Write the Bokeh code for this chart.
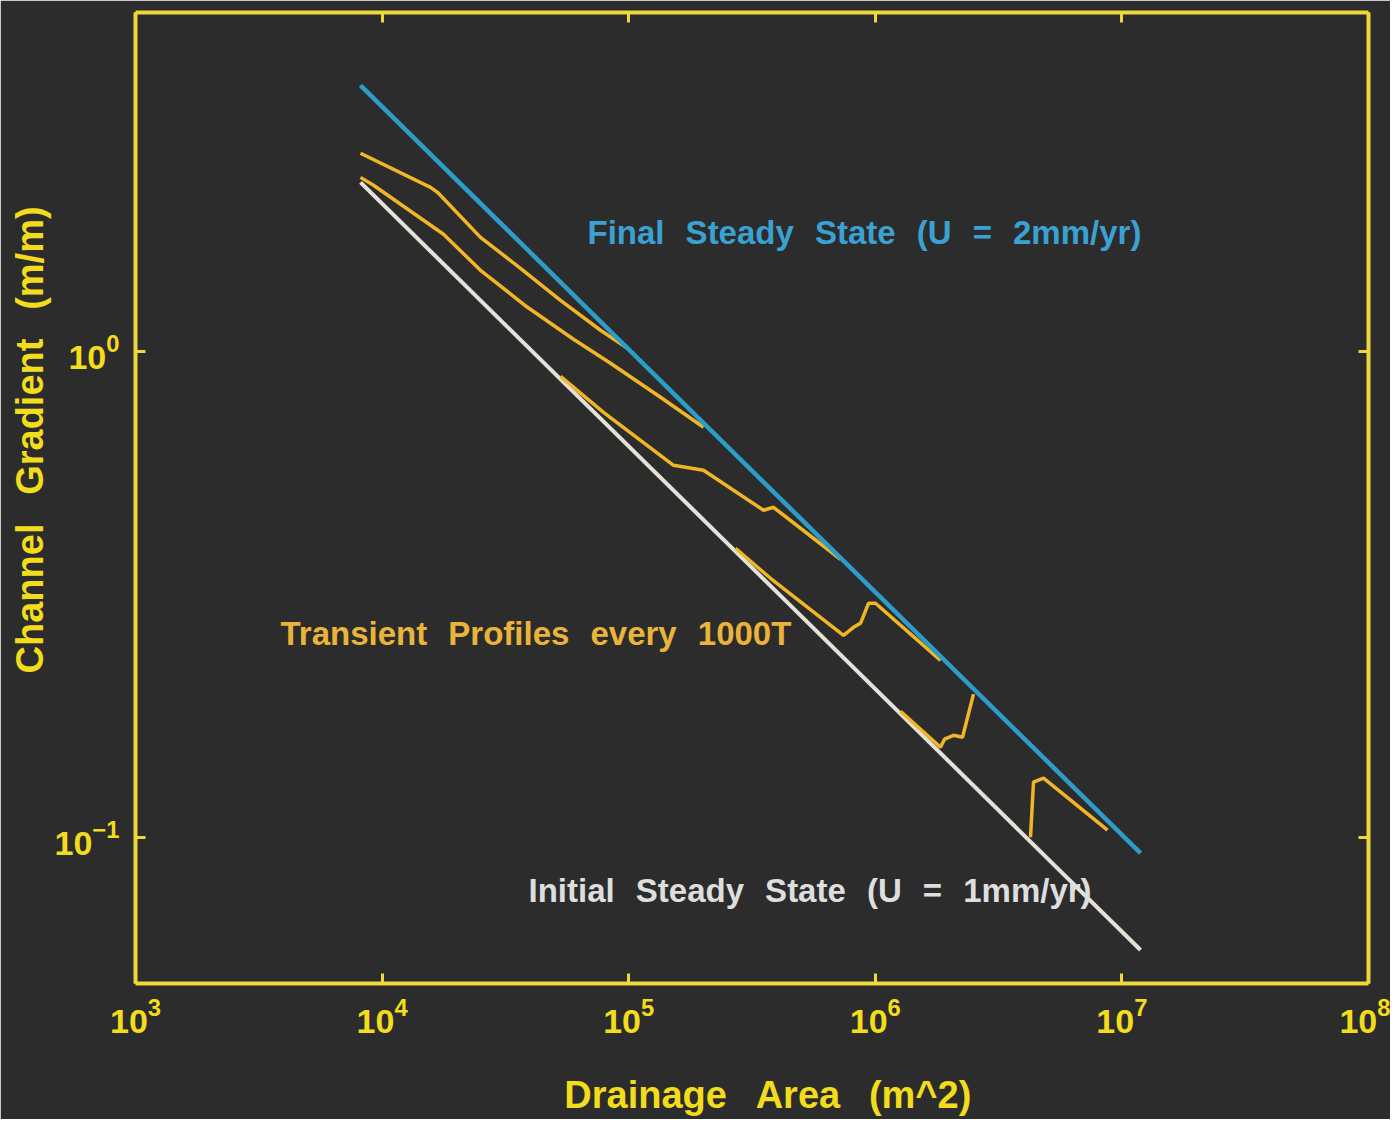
from bokeh.plotting import figure
from bokeh.models import Range1d, LogAxis, FixedTicker, LogTickFormatter, Label
from bokeh.embed import file_html
from bokeh.resources import INLINE

# ---- data ----
x_ticks = [1e3, 1e4, 1e5, 1e6, 1e7, 1e8]
y_ticks = [0.1, 1.0]

final_area = [8174, 11900000]
final_grad = [3.527, 0.0927]

initial_area = [8174, 11900000]
initial_grad = [2.227, 0.0586]

area_A = [8174, 15717, 16775, 25061, 36409, 52895, 76860, 98880]
grad_A = [2.556, 2.175, 2.124, 1.716, 1.482, 1.273, 1.105, 1.014]

area_B = [8174, 9228, 16160, 17745, 25061, 38863, 59727, 84380, 134590, 201100]
grad_B = [2.280, 2.196, 1.800, 1.741, 1.468, 1.232, 1.059, 0.9447, 0.8045, 0.6977]

area_C = [52895, 79050, 151950, 201100, 352100, 386600, 722600]
grad_C = [0.8883, 0.7489, 0.5826, 0.5692, 0.4709, 0.4775, 0.3733]

area_D = [271100, 375800, 743100, 815800, 870900, 938600, 1001800, 1838500]
grad_D = [0.3933, 0.3411, 0.2603, 0.2704, 0.2756, 0.3030, 0.3030, 0.2312]

area_E = [1265500, 1838500, 1908500, 2075900, 2257900, 2501500]
grad_E = [0.1816, 0.1532, 0.1591, 0.1621, 0.1606, 0.1970]

area_F = [4260000, 4380000, 4810000, 8743000]
grad_F = [0.1000, 0.1298, 0.1323, 0.1034]

transient = [(area_A, grad_A), (area_B, grad_B), (area_C, grad_C),
             (area_D, grad_D), (area_E, grad_E), (area_F, grad_F)]

# ---- styles ----
BG = "#2c2c2c"
FRAME = "#eed83a"
LABEL_YELLOW = "#f2dc1c"
PROFILE = "#f0b626"
BLUE = "#2c9cc8"
WHITE = "#e4e1d8"
FONT = "Liberation Sans"
NB = "\u00a0\u00a0\u200a"      # word gap for annotations
NB_AX = "\u00a0\u00a0\u2009"   # word gap for axis labels

p = figure(width=1390, height=1119,
           x_axis_type="log", y_axis_type="log",
           x_range=Range1d(1e3, 1e8), y_range=Range1d(0.05, 4.98),
           output_backend="svg", toolbar_location=None,
           min_border_left=135, min_border_right=22,
           min_border_top=12, min_border_bottom=136)

p.background_fill_color = BG
p.border_fill_color = BG
p.outline_line_color = None
p.xgrid.visible = False
p.ygrid.visible = False


def style_axis(ax, ticks, show_labels):
    ax.ticker = FixedTicker(ticks=ticks)
    ax.formatter = LogTickFormatter()
    ax.axis_line_color = FRAME
    ax.axis_line_width = 4
    ax.major_tick_line_color = FRAME
    ax.major_tick_line_width = 3
    ax.major_tick_in = 10
    ax.major_tick_out = 0
    ax.minor_tick_line_color = None
    if show_labels:
        ax.major_label_text_color = LABEL_YELLOW
        ax.major_label_text_font = FONT
        ax.major_label_text_font_size = "34px"
        ax.major_label_text_font_style = "bold"
    else:
        ax.major_label_text_font_size = "1px"
        ax.major_label_text_color = None
        ax.major_label_standoff = 0


xb = p.xaxis[0]
yl = p.yaxis[0]
style_axis(xb, x_ticks, True)
style_axis(yl, y_ticks, True)
xb.major_label_standoff = 14
yl.major_label_standoff = 16

xb.axis_label = "\u00a0" * 3 + "Drainage" + NB_AX + "Area" + NB_AX + "(m^2)"
yl.axis_label = "\u00a0" * 11 + "Channel" + NB_AX + "Gradient" + NB_AX + "(m/m)"
for ax in (xb, yl):
    ax.axis_label_text_color = LABEL_YELLOW
    ax.axis_label_text_font = FONT
    ax.axis_label_text_font_size = "38px"
    ax.axis_label_text_font_style = "bold"
xb.axis_label_standoff = 38
yl.axis_label_standoff = 1

top = LogAxis()
style_axis(top, x_ticks, False)
p.add_layout(top, "above")
right = LogAxis()
style_axis(right, y_ticks, False)
p.add_layout(right, "right")

# ---- lines ----
p.line(initial_area, initial_grad, line_color=WHITE, line_width=4)
for a, g in transient:
    p.line(a, g, line_color=PROFILE, line_width=3.5)
p.line(final_area, final_grad, line_color=BLUE, line_width=4.5)

# ---- annotations ----
p.add_layout(Label(x=68080, y=1.758, text="Final" + NB + "Steady" + NB + "State" + NB + "(U" + NB + "=" + NB + "2mm/yr)",
                   text_color="#3aa2d2", text_font=FONT, text_font_size="33px",
                   text_font_style="bold", text_baseline="middle", text_align="left"))
p.add_layout(Label(x=3873, y=0.2629, text="Transient" + NB + "Profiles" + NB + "every" + NB + "1000T",
                   text_color="#eab43a", text_font=FONT, text_font_size="33px",
                   text_font_style="bold", text_baseline="middle", text_align="left"))
p.add_layout(Label(x=39250, y=0.0778, text="Initial" + NB + "Steady" + NB + "State" + NB + "(U" + NB + "=" + NB + "1mm/yr)",
                   text_color="#dedede", text_font=FONT, text_font_size="33px",
                   text_font_style="bold", text_baseline="middle", text_align="left"))

open("out.html", "w").write(file_html(p, INLINE))
